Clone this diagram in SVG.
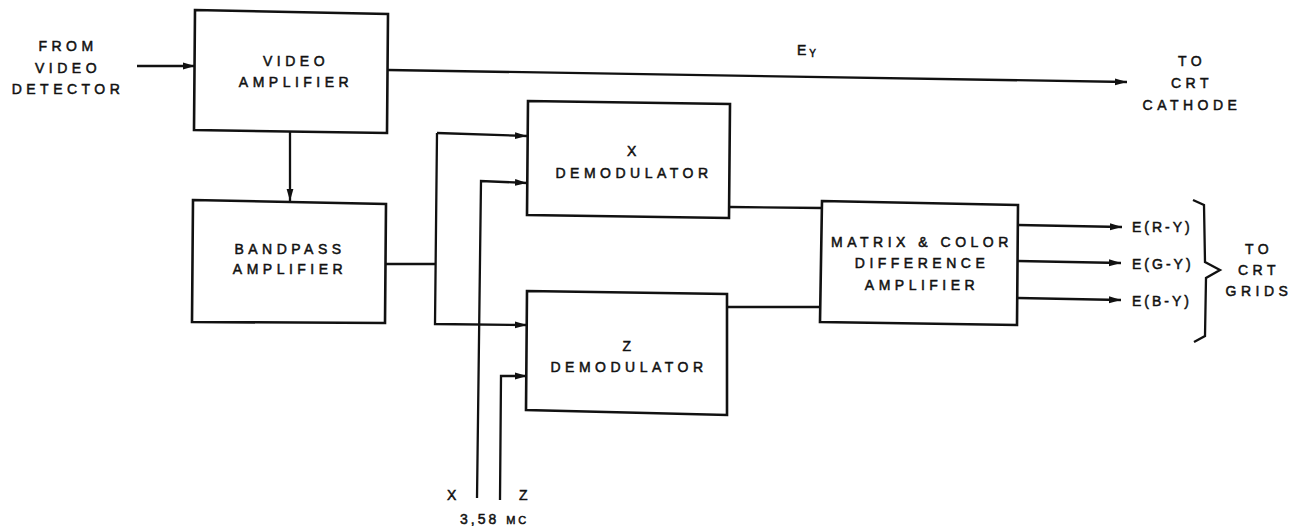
<svg xmlns="http://www.w3.org/2000/svg" width="1300" height="526" viewBox="0 0 1300 526">
<style>
.box{fill:#fff;stroke:#111;stroke-width:2.6;stroke-linejoin:miter}
.ln{fill:none;stroke:#111;stroke-width:2.3}
.t{font-family:"Liberation Sans",Arial,sans-serif;font-size:14px;letter-spacing:4.5px;fill:#111;stroke:#111;stroke-width:0.5;text-anchor:middle}
.tl{font-family:"Liberation Sans",Arial,sans-serif;font-size:14px;letter-spacing:3px;fill:#111;stroke:#111;stroke-width:0.5}
</style>
<defs>
<marker id="ah" markerUnits="userSpaceOnUse" markerWidth="14" markerHeight="10" refX="12" refY="4" orient="auto">
<path d="M0,0.6 L12,4 L0,7.4 Z" fill="#111"/>
</marker>
</defs>
<rect width="1300" height="526" fill="#fff"/>

<g id="connectors">
<line class="ln" x1="137" y1="66" x2="195" y2="66" marker-end="url(#ah)"/>
<line class="ln" x1="290" y1="131" x2="290" y2="201" marker-end="url(#ah)"/>
<line class="ln" x1="388" y1="70" x2="1127" y2="82" marker-end="url(#ah)"/>
<polyline class="ln" points="386,264 436,264"/>
<polyline class="ln" points="437,133 435,324 527,325" marker-end="url(#ah)"/>
<line class="ln" x1="437" y1="133" x2="527" y2="136" marker-end="url(#ah)"/>
<polyline class="ln" points="477,498 481,181 527,183" marker-end="url(#ah)"/>
<polyline class="ln" points="500,500 501,376 527,376" marker-end="url(#ah)"/>
<line class="ln" x1="730" y1="207" x2="822" y2="208"/>
<line class="ln" x1="727" y1="307" x2="821" y2="307"/>
<line class="ln" x1="1018" y1="225" x2="1122" y2="227" marker-end="url(#ah)"/>
<line class="ln" x1="1018" y1="261" x2="1121" y2="263" marker-end="url(#ah)"/>
<line class="ln" x1="1018" y1="298" x2="1121" y2="300" marker-end="url(#ah)"/>
<path class="ln" d="M1193,200 L1204,205 L1205,262 L1220,270 L1206,278 L1205,336 L1194,342"/>
</g>

<g id="video-amplifier">
<polygon class="box" points="195,10 388,14 387,133 194,130"/>
<text class="t" x="296" y="66">VIDEO</text>
<text class="t" x="296" y="87">AMPLIFIER</text>
</g>

<g id="bandpass-amplifier">
<polygon class="box" points="193,200 386,204 385,323 192,322"/>
<text class="t" x="290" y="254">BANDPASS</text>
<text class="t" x="290" y="274">AMPLIFIER</text>
</g>

<g id="x-demodulator">
<polygon class="box" points="528,101 730,104 729,218 527,215"/>
<text class="t" x="634" y="156">X</text>
<text class="t" x="634" y="178">DEMODULATOR</text>
</g>

<g id="z-demodulator">
<polygon class="box" points="527,291 727,294 727,415 526,410"/>
<text class="t" x="629" y="351">Z</text>
<text class="t" x="629" y="372">DEMODULATOR</text>
</g>

<g id="matrix-amplifier">
<polygon class="box" points="822,201 1018,205 1017,325 820,322"/>
<text class="t" x="922" y="247">MATRIX &amp; COLOR</text>
<text class="t" x="922" y="268">DIFFERENCE</text>
<text class="t" x="922" y="290">AMPLIFIER</text>
</g>

<g id="labels">
<text class="t" x="68" y="51">FROM</text>
<text class="t" x="68" y="73">VIDEO</text>
<text class="t" x="68" y="94">DETECTOR</text>
<text class="tl" x="797" y="55">E<tspan font-size="10" dy="2" letter-spacing="0">Y</tspan></text>
<text class="t" x="1192" y="66">TO</text>
<text class="t" x="1192" y="88">CRT</text>
<text class="t" x="1192" y="110">CATHODE</text>
<text class="tl" x="1132" y="232">E(R-Y)</text>
<text class="tl" x="1132" y="269">E(G-Y)</text>
<text class="tl" x="1132" y="306">E(B-Y)</text>
<text class="t" x="1259" y="254">TO</text>
<text class="t" x="1259" y="275">CRT</text>
<text class="t" x="1259" y="296">GRIDS</text>
<text class="tl" x="447" y="500">X</text>
<text class="tl" x="519" y="500">Z</text>
<text class="tl" x="460" y="524">3,58 <tspan font-size="11">MC</tspan></text>
</g>
</svg>
